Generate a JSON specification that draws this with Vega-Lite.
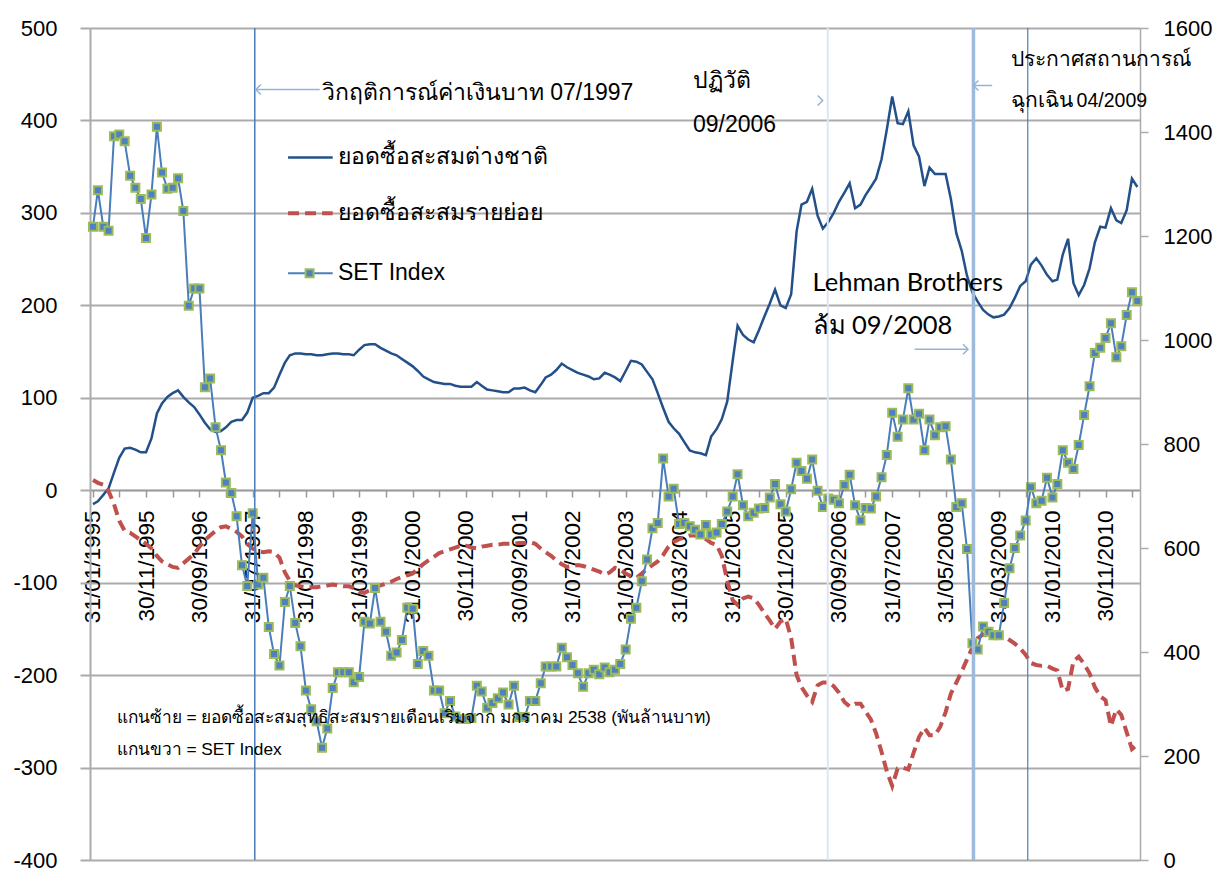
{
"$schema":"https://vega.github.io/schema/vega-lite/v6.json",
"width":1050,"height":832,
"autosize":{"type":"none"},
"padding":{"left":90,"top":28,"right":84,"bottom":19},
"background":"white",
"config":{"view":{"stroke":null},"font":"Liberation Sans"},
"datasets":{"m":[
{"d":"1995/01/31","f":-15,"r":11,"s":1218},{"d":"1995/02/28","f":-12,"r":8,"s":1288},{"d":"1995/03/31","f":-5,"r":6,"s":1218},{"d":"1995/04/30","f":2,"r":-1,"s":1210},{"d":"1995/05/31","f":19,"r":-15,"s":1392},{"d":"1995/06/30","f":35,"r":-33,"s":1395},{"d":"1995/07/31","f":45,"r":-44,"s":1382},{"d":"1995/08/31","f":46,"r":-46,"s":1316},{"d":"1995/09/30","f":44,"r":-50,"s":1293},{"d":"1995/10/31","f":41,"r":-54,"s":1271},{"d":"1995/11/30","f":41,"r":-58,"s":1196},{"d":"1995/12/31","f":56,"r":-63,"s":1280},
{"d":"1996/01/31","f":83,"r":-71,"s":1410},{"d":"1996/02/29","f":94,"r":-77,"s":1322},{"d":"1996/03/31","f":101,"r":-80,"s":1291},{"d":"1996/04/30","f":105,"r":-83,"s":1293},{"d":"1996/05/31","f":108,"r":-84,"s":1311},{"d":"1996/06/30","f":101,"r":-79,"s":1248},{"d":"1996/07/31","f":95,"r":-74,"s":1066},{"d":"1996/08/31","f":90,"r":-69,"s":1099},{"d":"1996/09/30","f":82,"r":-61,"s":1099},{"d":"1996/10/31","f":73,"r":-54,"s":909},{"d":"1996/11/30","f":66,"r":-49,"s":926},{"d":"1996/12/31","f":63,"r":-44,"s":832},
{"d":"1997/01/31","f":64,"r":-40,"s":788},{"d":"1997/02/28","f":68,"r":-39,"s":726},{"d":"1997/03/31","f":74,"r":-42,"s":706},{"d":"1997/04/30","f":76,"r":-45,"s":661},{"d":"1997/05/31","f":76,"r":-50,"s":567},{"d":"1997/06/30","f":84,"r":-58,"s":527},{"d":"1997/07/31","f":100,"r":-63,"s":667},{"d":"1997/08/31","f":102,"r":-66,"s":530},{"d":"1997/09/30","f":105,"r":-67,"s":543},{"d":"1997/10/31","f":105,"r":-66,"s":448},{"d":"1997/11/30","f":111,"r":-67,"s":396},{"d":"1997/12/31","f":125,"r":-73,"s":374},
{"d":"1998/01/31","f":138,"r":-89,"s":496},{"d":"1998/02/28","f":146,"r":-98,"s":527},{"d":"1998/03/31","f":148,"r":-103,"s":456},{"d":"1998/04/30","f":148,"r":-104,"s":411},{"d":"1998/05/31","f":147,"r":-105,"s":326},{"d":"1998/06/30","f":147,"r":-105,"s":290},{"d":"1998/07/31","f":146,"r":-105,"s":267},{"d":"1998/08/31","f":146,"r":-104,"s":216},{"d":"1998/09/30","f":147,"r":-103,"s":253},{"d":"1998/10/31","f":148,"r":-102,"s":331},{"d":"1998/11/30","f":148,"r":-103,"s":361},{"d":"1998/12/31","f":147,"r":-104,"s":361},
{"d":"1999/01/31","f":147,"r":-104,"s":361},{"d":"1999/02/28","f":146,"r":-106,"s":342},{"d":"1999/03/31","f":152,"r":-110,"s":352},{"d":"1999/04/30","f":157,"r":-111,"s":458},{"d":"1999/05/31","f":158,"r":-108,"s":455},{"d":"1999/06/30","f":158,"r":-105,"s":523},{"d":"1999/07/31","f":154,"r":-103,"s":458},{"d":"1999/08/31","f":151,"r":-101,"s":439},{"d":"1999/09/30","f":148,"r":-99,"s":393},{"d":"1999/10/31","f":146,"r":-96,"s":399},{"d":"1999/11/30","f":142,"r":-94,"s":423},{"d":"1999/12/31","f":138,"r":-92,"s":485},
{"d":"2000/01/31","f":134,"r":-90,"s":483},{"d":"2000/02/29","f":129,"r":-85,"s":377},{"d":"2000/03/31","f":123,"r":-80,"s":402},{"d":"2000/04/30","f":120,"r":-76,"s":393},{"d":"2000/05/31","f":117,"r":-72,"s":326},{"d":"2000/06/30","f":116,"r":-68,"s":326},{"d":"2000/07/31","f":115,"r":-66,"s":282},{"d":"2000/08/31","f":115,"r":-64,"s":306},{"d":"2000/09/30","f":113,"r":-62,"s":276},{"d":"2000/10/31","f":112,"r":-60,"s":271},{"d":"2000/11/30","f":112,"r":-60,"s":271},{"d":"2000/12/31","f":112,"r":-62,"s":273},
{"d":"2001/01/31","f":117,"r":-63,"s":335},{"d":"2001/02/28","f":113,"r":-61,"s":324},{"d":"2001/03/31","f":109,"r":-60,"s":293},{"d":"2001/04/30","f":108,"r":-59,"s":302},{"d":"2001/05/31","f":107,"r":-59,"s":311},{"d":"2001/06/30","f":106,"r":-58,"s":322},{"d":"2001/07/31","f":106,"r":-58,"s":299},{"d":"2001/08/31","f":110,"r":-58,"s":335},{"d":"2001/09/30","f":110,"r":-57,"s":275},{"d":"2001/10/31","f":111,"r":-57,"s":275},{"d":"2001/11/30","f":108,"r":-56,"s":306},{"d":"2001/12/31","f":106,"r":-58,"s":306},
{"d":"2002/01/31","f":114,"r":-63,"s":340},{"d":"2002/02/28","f":122,"r":-67,"s":372},{"d":"2002/03/31","f":125,"r":-71,"s":372},{"d":"2002/04/30","f":130,"r":-76,"s":372},{"d":"2002/05/31","f":137,"r":-80,"s":408},{"d":"2002/06/30","f":133,"r":-83,"s":390},{"d":"2002/07/31","f":130,"r":-82,"s":375},{"d":"2002/08/31","f":127,"r":-81,"s":359},{"d":"2002/09/30","f":125,"r":-82,"s":333},{"d":"2002/10/31","f":123,"r":-84,"s":359},{"d":"2002/11/30","f":120,"r":-86,"s":366},{"d":"2002/12/31","f":121,"r":-88,"s":357},
{"d":"2003/01/31","f":127,"r":-91,"s":370},{"d":"2003/02/28","f":125,"r":-89,"s":361},{"d":"2003/03/31","f":122,"r":-84,"s":366},{"d":"2003/04/30","f":118,"r":-86,"s":377},{"d":"2003/05/31","f":129,"r":-90,"s":405},{"d":"2003/06/30","f":140,"r":-93,"s":464},{"d":"2003/07/31","f":139,"r":-95,"s":485},{"d":"2003/08/31","f":136,"r":-90,"s":536},{"d":"2003/09/30","f":128,"r":-85,"s":578},{"d":"2003/10/31","f":120,"r":-81,"s":638},{"d":"2003/11/30","f":105,"r":-77,"s":648},{"d":"2003/12/31","f":89,"r":-70,"s":772},
{"d":"2004/01/31","f":74,"r":-61,"s":699},{"d":"2004/02/29","f":67,"r":-56,"s":714},{"d":"2004/03/31","f":61,"r":-53,"s":646},{"d":"2004/04/30","f":52,"r":-51,"s":648},{"d":"2004/05/31","f":43,"r":-49,"s":642},{"d":"2004/06/30","f":41,"r":-49,"s":635},{"d":"2004/07/31","f":40,"r":-50,"s":626},{"d":"2004/08/31","f":38,"r":-53,"s":644},{"d":"2004/09/30","f":58,"r":-57,"s":626},{"d":"2004/10/31","f":66,"r":-59,"s":630},{"d":"2004/11/30","f":77,"r":-71,"s":646},{"d":"2004/12/31","f":96,"r":-98,"s":670},
{"d":"2005/01/31","f":140,"r":-119,"s":699},{"d":"2005/02/28","f":178,"r":-124,"s":742},{"d":"2005/03/31","f":168,"r":-117,"s":682},{"d":"2005/04/30","f":163,"r":-115,"s":661},{"d":"2005/05/31","f":160,"r":-117,"s":668},{"d":"2005/06/30","f":173,"r":-124,"s":676},{"d":"2005/07/31","f":188,"r":-133,"s":677},{"d":"2005/08/31","f":202,"r":-141,"s":697},{"d":"2005/09/30","f":217,"r":-150,"s":723},{"d":"2005/10/31","f":200,"r":-142,"s":684},{"d":"2005/11/30","f":197,"r":-139,"s":670},{"d":"2005/12/31","f":212,"r":-160,"s":713},
{"d":"2006/01/31","f":280,"r":-200,"s":764},{"d":"2006/02/28","f":309,"r":-213,"s":748},{"d":"2006/03/31","f":312,"r":-222,"s":733},{"d":"2006/04/30","f":326,"r":-229,"s":770},{"d":"2006/05/31","f":297,"r":-211,"s":710},{"d":"2006/06/30","f":283,"r":-208,"s":679},{"d":"2006/07/31","f":290,"r":-208,"s":695},{"d":"2006/08/31","f":300,"r":-212,"s":693},{"d":"2006/09/30","f":312,"r":-219,"s":686},{"d":"2006/10/31","f":322,"r":-229,"s":721},{"d":"2006/11/30","f":332,"r":-234,"s":741},{"d":"2006/12/31","f":305,"r":-231,"s":682},
{"d":"2007/01/31","f":309,"r":-231,"s":653},{"d":"2007/02/28","f":319,"r":-239,"s":677},{"d":"2007/03/31","f":328,"r":-248,"s":676},{"d":"2007/04/30","f":337,"r":-263,"s":699},{"d":"2007/05/31","f":358,"r":-283,"s":736},{"d":"2007/06/30","f":390,"r":-304,"s":779},{"d":"2007/07/31","f":426,"r":-320,"s":860},{"d":"2007/08/31","f":397,"r":-301,"s":814},{"d":"2007/09/30","f":396,"r":-300,"s":847},{"d":"2007/10/31","f":410,"r":-302,"s":907},{"d":"2007/11/30","f":373,"r":-284,"s":847},{"d":"2007/12/31","f":361,"r":-267,"s":858},
{"d":"2008/01/31","f":329,"r":-257,"s":788},{"d":"2008/02/29","f":349,"r":-265,"s":847},{"d":"2008/03/31","f":342,"r":-265,"s":817},{"d":"2008/04/30","f":342,"r":-256,"s":832},{"d":"2008/05/31","f":342,"r":-240,"s":834},{"d":"2008/06/30","f":315,"r":-220,"s":770},{"d":"2008/07/31","f":278,"r":-208,"s":679},{"d":"2008/08/31","f":259,"r":-196,"s":686},{"d":"2008/09/30","f":232,"r":-183,"s":598},{"d":"2008/10/31","f":214,"r":-170,"s":417},{"d":"2008/11/30","f":204,"r":-160,"s":405},{"d":"2008/12/31","f":195,"r":-156,"s":449},
{"d":"2009/01/31","f":190,"r":-158,"s":439},{"d":"2009/02/28","f":187,"r":-156,"s":432},{"d":"2009/03/31","f":188,"r":-157,"s":432},{"d":"2009/04/30","f":190,"r":-158,"s":494},{"d":"2009/05/31","f":197,"r":-162,"s":561},{"d":"2009/06/30","f":208,"r":-166,"s":600},{"d":"2009/07/31","f":221,"r":-171,"s":624},{"d":"2009/08/31","f":226,"r":-178,"s":653},{"d":"2009/09/30","f":244,"r":-187,"s":717},{"d":"2009/10/31","f":251,"r":-189,"s":686},{"d":"2009/11/30","f":243,"r":-190,"s":691},{"d":"2009/12/31","f":233,"r":-190,"s":735},
{"d":"2010/01/31","f":226,"r":-193,"s":697},{"d":"2010/02/28","f":228,"r":-195,"s":723},{"d":"2010/03/31","f":255,"r":-217,"s":788},{"d":"2010/04/30","f":272,"r":-215,"s":764},{"d":"2010/05/31","f":224,"r":-185,"s":752},{"d":"2010/06/30","f":211,"r":-180,"s":798},{"d":"2010/07/31","f":222,"r":-188,"s":856},{"d":"2010/08/31","f":240,"r":-198,"s":911},{"d":"2010/09/30","f":268,"r":-213,"s":975},{"d":"2010/10/31","f":285,"r":-223,"s":985},{"d":"2010/11/30","f":284,"r":-227,"s":1004},{"d":"2010/12/31","f":305,"r":-255,"s":1032},
{"d":"2011/01/31","f":292,"r":-237,"s":967},{"d":"2011/02/28","f":289,"r":-243,"s":988},{"d":"2011/03/31","f":303,"r":-262,"s":1048},{"d":"2011/04/30","f":337,"r":-280,"s":1092},{"d":"2011/05/31","f":328,"r":-275,"s":1075}
]},
"encoding":{
  "x":{"field":"d","type":"temporal","title":null,
    "scale":{"domain":[{"year":1995,"month":1,"date":14},{"year":2011,"month":6,"date":15}]},
    "axis":{"orient":"bottom","offset":-370,
      "values":[{"year":1995,"month":1,"date":31},{"year":1995,"month":6,"date":30},{"year":1995,"month":11,"date":30},{"year":1996,"month":4,"date":30},{"year":1996,"month":9,"date":30},{"year":1997,"month":2,"date":28},{"year":1997,"month":7,"date":31},{"year":1997,"month":12,"date":31},{"year":1998,"month":5,"date":31},{"year":1998,"month":10,"date":31},{"year":1999,"month":3,"date":31},{"year":1999,"month":8,"date":31},{"year":2000,"month":1,"date":31},{"year":2000,"month":6,"date":30},{"year":2000,"month":11,"date":30},{"year":2001,"month":4,"date":30},{"year":2001,"month":9,"date":30},{"year":2002,"month":2,"date":28},{"year":2002,"month":7,"date":31},{"year":2002,"month":12,"date":31},{"year":2003,"month":5,"date":31},{"year":2003,"month":10,"date":31},{"year":2004,"month":3,"date":31},{"year":2004,"month":8,"date":31},{"year":2005,"month":1,"date":31},{"year":2005,"month":6,"date":30},{"year":2005,"month":11,"date":30},{"year":2006,"month":4,"date":30},{"year":2006,"month":9,"date":30},{"year":2007,"month":2,"date":28},{"year":2007,"month":7,"date":31},{"year":2007,"month":12,"date":31},{"year":2008,"month":5,"date":31},{"year":2008,"month":10,"date":31},{"year":2009,"month":3,"date":31},{"year":2009,"month":8,"date":31},{"year":2010,"month":1,"date":31},{"year":2010,"month":6,"date":30},{"year":2010,"month":11,"date":30},{"year":2011,"month":4,"date":30}],
      "labelExpr":"((year(datum.value)-1995)*12+month(datum.value))%10==0?timeFormat(datum.value,'%d/%m/%Y'):''",
      "labelAngle":270,"labelFontSize":22.5,"labelColor":"#000000","labelFont":"Liberation Sans",
      "tickSize":7,"tickColor":"#9a9a9a","tickWidth":1.5,"domainColor":"#9a9a9a","domainWidth":1.5,
      "grid":false,"labelPadding":13,"labelOverlap":false,"labelBound":false,"labelFlush":false,"title":null}}
},
"layer":[
  {"data":{"name":"m"},
   "mark":{"type":"line","color":"#24508a","strokeWidth":2.5},
   "encoding":{
     "y":{"field":"f","type":"quantitative","title":null,"scale":{"domain":[-400,500],"nice":false,"zero":false},
       "axis":{"orient":"left","values":[-400,-300,-200,-100,0,100,200,300,400,500],"labelExpr":"''+datum.value","grid":true,"gridColor":"#ababab","gridWidth":2,
         "domainColor":"#ababab","domainWidth":2,"tickColor":"#ababab","tickWidth":2,"tickSize":10,"labelPadding":23,
         "labelFontSize":22,"labelColor":"#000000","labelFont":"Liberation Sans","title":null}}}},
  {"data":{"name":"m"},
   "mark":{"type":"line","color":"#c0504d","strokeWidth":4,"strokeDash":[11,6]},
   "encoding":{"y":{"field":"r","type":"quantitative","axis":null,"scale":{"domain":[-400,500],"nice":false,"zero":false}}}},
  {"data":{"name":"m"},
   "mark":{"type":"line","color":"#4a7ebb","strokeWidth":2},
   "encoding":{"y":{"field":"s","type":"quantitative","title":null,"scale":{"domain":[0,1600],"nice":false,"zero":false},
       "axis":{"orient":"right","values":[0,200,400,600,800,1000,1200,1400,1600],"labelExpr":"''+datum.value","grid":false,"domainColor":"#ababab","domainWidth":1.5,
         "tickColor":"#ababab","tickWidth":1.5,"tickSize":8,"labelPadding":15,"labelFontSize":22,"labelColor":"#000000","labelFont":"Liberation Sans","title":null}}}},
  {"data":{"name":"m"},
   "mark":{"type":"point","shape":"square","filled":true,"fill":"#4f81bd","stroke":"#9bbb59","strokeWidth":2,"size":64,"opacity":1},
   "encoding":{"y":{"field":"s","type":"quantitative","axis":null,"scale":{"domain":[0,1600],"nice":false,"zero":false}}}},
  {"data":{"values":[{"d":"1997/08/12"}]},"mark":{"type":"rule","color":"#4a7ebb","strokeWidth":1.5},"encoding":{}},
  {"data":{"values":[{"d":"2006/07/28"}]},"mark":{"type":"rule","color":"#dce6f2","strokeWidth":2},"encoding":{}},
  {"data":{"values":[{"d":"2008/11/06"}]},"mark":{"type":"rule","color":"#9db9dc","strokeWidth":3.5},"encoding":{}},
  {"data":{"values":[{"d":"2009/09/12"}]},"mark":{"type":"rule","color":"#4a7ebb","strokeWidth":1.2},"encoding":{}},
  {"data":{"values":[{"d":"1998/08/18","d2":"1997/08/18","L":433.5},{"d":"2007/12/06","d2":"2008/10/06","L":152.4},{"d":"2009/02/21","d2":"2008/11/06","L":437.8}]},
   "mark":{"type":"rule","color":"#95b3d7","strokeWidth":1.5},
   "encoding":{"x2":{"field":"d2"},
     "y":{"field":"L","type":"quantitative","axis":null,"scale":{"domain":[-400,500],"nice":false,"zero":false}}}},
  {"data":{"values":[{"d":"1997/08/18","L":433.5},{"d":"2008/11/06","L":437.8}]},
   "mark":{"type":"point","shape":"M1,-1L0,0L1,1","filled":false,"stroke":"#95b3d7","strokeWidth":1.5,"size":100,"opacity":1},
   "encoding":{"y":{"field":"L","type":"quantitative","axis":null,"scale":{"domain":[-400,500],"nice":false,"zero":false}}}},
  {"data":{"values":[{"d":"2008/10/06","L":152.4},{"d":"2006/06/29","L":421.6}]},
   "mark":{"type":"point","shape":"M-1,-1L0,0L-1,1","filled":false,"stroke":"#95b3d7","strokeWidth":1.5,"size":100,"opacity":1},
   "encoding":{"y":{"field":"L","type":"quantitative","axis":null,"scale":{"domain":[-400,500],"nice":false,"zero":false}}}},
  {"data":{"values":[{"d":"1998/02/18","d2":"1998/10/31","L":360}]},
   "mark":{"type":"rule","color":"#24508a","strokeWidth":2.5},
   "encoding":{"x2":{"field":"d2"},
     "y":{"field":"L","type":"quantitative","axis":null,"scale":{"domain":[-400,500],"nice":false,"zero":false}}}},
  {"data":{"values":[{"d":"1998/02/18","d2":"1998/10/31","L":299.5}]},
   "mark":{"type":"rule","color":"#c0504d","strokeWidth":4,"strokeDash":[11,6]},
   "encoding":{"x2":{"field":"d2"},
     "y":{"field":"L","type":"quantitative","axis":null,"scale":{"domain":[-400,500],"nice":false,"zero":false}}}},
  {"data":{"values":[{"d":"1998/02/18","d2":"1998/10/31","L":234.6}]},
   "mark":{"type":"rule","color":"#4a7ebb","strokeWidth":2},
   "encoding":{"x2":{"field":"d2"},
     "y":{"field":"L","type":"quantitative","axis":null,"scale":{"domain":[-400,500],"nice":false,"zero":false}}}},
  {"data":{"values":[{"d":"1998/06/21","L":234.6}]},
   "mark":{"type":"point","shape":"square","filled":true,"fill":"#4f81bd","stroke":"#9bbb59","strokeWidth":2,"size":64,"opacity":1},
   "encoding":{"y":{"field":"L","type":"quantitative","axis":null,"scale":{"domain":[-400,500],"nice":false,"zero":false}}}},
  {"data":{"values":[{"d":"1998/11/30","L":360,"t":"ยอดซื้อสะสมต่างชาติ"},{"d":"1998/11/30","L":299.5,"t":"ยอดซื้อสะสมรายย่อย"},{"d":"1998/11/30","L":234.6,"t":"SET Index"},
     {"d":"1998/08/30","L":430,"t":"วิกฤติการณ์ค่าเงินบาท 07/1997"},{"d":"2004/06/18","L":443,"t":"ปฏิวัติ"},{"d":"2004/06/18","L":395,"t":"09/2006"}]},
   "mark":{"type":"text","align":"left","baseline":"middle","fontSize":23,"color":"#000000","font":"Liberation Sans"},
   "encoding":{"y":{"field":"L","type":"quantitative","axis":null,"scale":{"domain":[-400,500],"nice":false,"zero":false}},
     "text":{"field":"t"}}},
  {"data":{"values":[{"d":"2009/06/06","L":465,"t":"ประกาศสถานการณ์"},{"d":"2009/06/06","L":420.5,"t":"ฉุกเฉิน"}]},
   "mark":{"type":"text","align":"left","baseline":"middle","fontSize":21,"color":"#000000","font":"Liberation Sans"},
   "encoding":{"y":{"field":"L","type":"quantitative","axis":null,"scale":{"domain":[-400,500],"nice":false,"zero":false}},
     "text":{"field":"t"}}},
  {"data":{"values":[{"d":"2010/06/18","L":420.5,"t":"04/2009"}]},
   "mark":{"type":"text","align":"left","baseline":"middle","fontSize":19.5,"color":"#000000","font":"Liberation Sans"},
   "encoding":{"y":{"field":"L","type":"quantitative","axis":null,"scale":{"domain":[-400,500],"nice":false,"zero":false}},
     "text":{"field":"t"}}},
  {"data":{"values":[{"d":"1995/06/15","L":-246.5,"t":"แกนซ้าย = ยอดซื้อสะสมสุทธิสะสมรายเดือนเริ่มจาก มกราคม 2538 (พันล้านบาท)"},{"d":"1995/06/15","L":-281,"t":"แกนขวา = SET Index"}]},
   "mark":{"type":"text","align":"left","baseline":"middle","fontSize":17.3,"color":"#000000","font":"Liberation Sans"},
   "encoding":{"y":{"field":"L","type":"quantitative","axis":null,"scale":{"domain":[-400,500],"nice":false,"zero":false}},
     "text":{"field":"t"}}},
  {"data":{"values":[{"d":"2006/05/02","L":224,"t":"Lehman Brothers"},{"d":"2006/05/02","L":178,"t":"ล้ม 09/2008"}]},
   "mark":{"type":"text","align":"left","baseline":"middle","fontSize":25.5,"color":"#000000","font":"Lato"},
   "encoding":{"y":{"field":"L","type":"quantitative","axis":null,"scale":{"domain":[-400,500],"nice":false,"zero":false}},
     "text":{"field":"t"}}}
],
"resolve":{"scale":{"y":"independent"}}
}
